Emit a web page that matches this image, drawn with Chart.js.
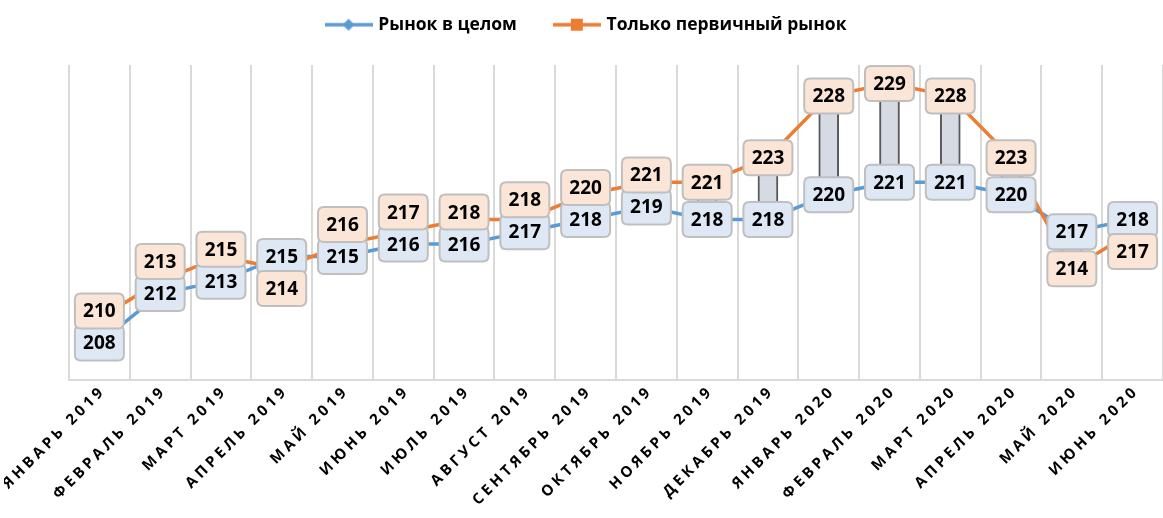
<!DOCTYPE html>
<html>
<head>
<meta charset="utf-8">
<script src="https://cdn.jsdelivr.net/npm/chart.js@4.4.1/dist/chart.umd.min.js"></script>
<style>
    html, body { margin: 0; padding: 0; background: #fff; }
    #wrap { width: 1163px; height: 518px; }
</style>
</head>
<body>
<div id="wrap"><canvas id="myChart"></canvas></div>
<script>
var months = ["ЯНВАРЬ 2019", "ФЕВРАЛЬ 2019", "МАРТ 2019", "АПРЕЛЬ 2019", "МАЙ 2019", "ИЮНЬ 2019",
    "ИЮЛЬ 2019", "АВГУСТ 2019", "СЕНТЯБРЬ 2019", "ОКТЯБРЬ 2019", "НОЯБРЬ 2019", "ДЕКАБРЬ 2019",
    "ЯНВАРЬ 2020", "ФЕВРАЛЬ 2020", "МАРТ 2020", "АПРЕЛЬ 2020", "МАЙ 2020", "ИЮНЬ 2020"];
var marketAll = [208, 212, 213, 215, 215, 216, 216, 217, 218, 219, 218, 218, 220, 221, 221, 220, 217, 218];
var primaryOnly = [210, 213, 215, 214, 216, 217, 218, 218, 220, 221, 221, 223, 228, 229, 228, 223, 214, 217];
var seriesNames = ["Рынок в целом", "Только первичный рынок"];

var FONT = "'Open Sans', 'DejaVu Sans', sans-serif";

// little line + marker pictures for the legend
var legendIcon = function (color, shape) {
    var c = document.createElement('canvas');
    c.width = 48;
    c.height = 14;
    var g = c.getContext('2d');
    g.strokeStyle = color;
    g.lineWidth = 3.5;
    g.beginPath();
    g.moveTo(0, 7);
    g.lineTo(48, 7);
    g.stroke();
    g.fillStyle = color;
    if (shape === 'diamond') {
        g.beginPath();
        g.moveTo(24, 1);
        g.lineTo(30, 7);
        g.lineTo(24, 13);
        g.lineTo(18, 7);
        g.closePath();
        g.fill();
    } else {
        g.fillRect(18, 1, 12, 12);
    }
    return c;
};
var icons = [legendIcon('#5b9bd5', 'diamond'), legendIcon('#ed7d31', 'square')];

var roundRect = function (ctx, x, y, w, h, r) {
    ctx.beginPath();
    ctx.moveTo(x + r, y);
    ctx.lineTo(x + w - r, y);
    ctx.quadraticCurveTo(x + w, y, x + w, y + r);
    ctx.lineTo(x + w, y + h - r);
    ctx.quadraticCurveTo(x + w, y + h, x + w - r, y + h);
    ctx.lineTo(x + r, y + h);
    ctx.quadraticCurveTo(x, y + h, x, y + h - r);
    ctx.lineTo(x, y + r);
    ctx.quadraticCurveTo(x, y, x + r, y);
    ctx.closePath();
};

// boxed value labels, the second series is nudged away when the boxes would collide
var boxLabels = {
    id: 'boxLabels',
    afterDatasetsDraw: function (chart) {
        var ctx = chart.ctx;
        var blue = chart.getDatasetMeta(1).data;
        var orange = chart.getDatasetMeta(2).data;
        var bw = 49, bh = 35, step = 32;
        var draw = function (x, y, text, fill) {
            ctx.save();
            roundRect(ctx, x - bw / 2, y - bh / 2, bw, bh, 6);
            ctx.fillStyle = fill;
            ctx.fill();
            ctx.lineWidth = 2;
            ctx.strokeStyle = '#bfbfbf';
            ctx.stroke();
            ctx.fillStyle = '#000';
            ctx.font = "bold 19px " + FONT;
            ctx.textAlign = 'center';
            ctx.textBaseline = 'middle';
            ctx.fillText(text, x, y + 1);
            ctx.restore();
        };
        for (var i = 0; i < blue.length; i++) {
            draw(blue[i].x, blue[i].y, marketAll[i], '#dee8f4');
        }
        for (var j = 0; j < orange.length; j++) {
            var yb = blue[j].y, yo = orange[j].y;
            if (Math.abs(yo - yb) < step) {
                yo = primaryOnly[j] >= marketAll[j] ? yb - step : yb + step;
            }
            draw(orange[j].x, yo, primaryOnly[j], '#fbe5d6');
        }
    }
};

// Excel-like spaced axis text and legend placement
var tweaks = {
    id: 'tweaks',
    afterInit: function (chart) {
        var legend = chart.legend;
        var fit = legend.fit;
        legend.fit = function () {
            fit.call(this);
            this.height = 65;
        };
    },
    afterLayout: function (chart) {
        chart.legend.top = -23;
        chart.legend.left = 11;
        var s = chart.scales.x;
        if (!s._spaced) {
            var orig = s.drawLabels;
            s.drawLabels = function (area) {
                this.ctx.save();
                this.ctx.translate(4, -2);
                this.ctx.letterSpacing = '3.6px';
                orig.call(this, area);
                this.ctx.restore();
            };
            s._spaced = true;
        }
    }
};

var ctx = document.getElementById("myChart");
var myChart = new Chart(ctx, {
    type: 'line',
    data: {
        labels: months,
        datasets: [{
            type: 'bar',
            data: months.map(function (m, i) { return [marketAll[i], primaryOnly[i]]; }),
            backgroundColor: '#d5dae3',
            borderColor: '#595959',
            borderWidth: {left: 2, right: 2, top: 0, bottom: 0},
            borderSkipped: false,
            barThickness: 20,
            order: 3
        }, {
            label: seriesNames[0],
            data: marketAll,
            borderColor: '#5b9bd5',
            backgroundColor: '#5b9bd5',
            borderWidth: 3.5,
            pointStyle: 'rectRot',
            pointRadius: 5,
            lineTension: 0,
            order: 2
        }, {
            label: seriesNames[1],
            data: primaryOnly,
            borderColor: '#ed7d31',
            backgroundColor: '#ed7d31',
            borderWidth: 3.5,
            pointStyle: 'rect',
            pointRadius: 5,
            lineTension: 0,
            order: 1
        }]
    },
    options: {
        responsive: true,
        maintainAspectRatio: false,
        animation: false,
        layout: {autoPadding: false, padding: {left: 69, right: 0, top: 0, bottom: 0}},
        plugins: {
            tooltip: {enabled: false},
            legend: {
                position: 'top',
                labels: {
                    usePointStyle: true,
                    pointStyleWidth: 42,
                    padding: 39,
                    color: '#000',
                    font: {family: FONT, size: 17.5, weight: 'bold'},
                    filter: function (item) { return item.datasetIndex > 0; },
                    sort: function (a, b) { return a.datasetIndex - b.datasetIndex; },
                    generateLabels: function (chart) {
                        var items = Chart.defaults.plugins.legend.labels.generateLabels(chart);
                        items.forEach(function (it) {
                            if (it.datasetIndex > 0) it.pointStyle = icons[it.datasetIndex - 1];
                        });
                        return items;
                    }
                }
            }
        },
        scales: {
            x: {
                offset: true,
                grid: {offset: true, color: '#d9d9d9', lineWidth: 2, drawTicks: false},
                border: {color: '#d9d9d9', width: 2},
                ticks: {
                    autoSkip: false,
                    minRotation: 45,
                    maxRotation: 45,
                    padding: 4,
                    color: '#000',
                    font: {family: FONT, size: 15, weight: 'bold'}
                },
                afterFit: function (scale) {
                    scale.height = 138;
                    scale.paddingLeft = 0;
                    scale.paddingRight = 0;
                }
            },
            y: {
                display: false,
                min: 205,
                max: 230.5
            }
        }
    },
    plugins: [boxLabels, tweaks]
});
</script>
</body>
</html>
